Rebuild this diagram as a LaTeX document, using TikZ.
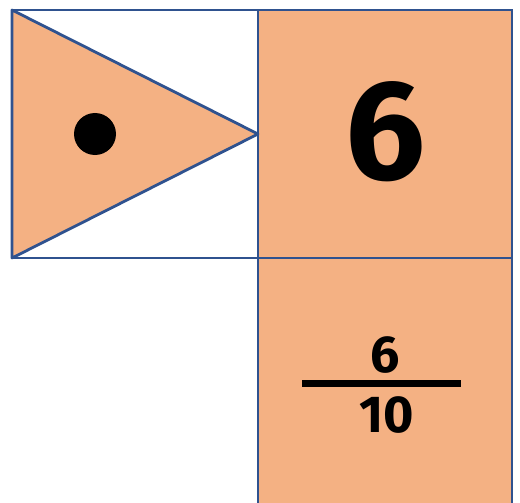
\documentclass[tikz,border=0pt]{standalone}
\usepackage{fontspec}
\setmainfont{Fira Sans}
\definecolor{tileblue}{RGB}{47,82,143}
\definecolor{tileorange}{RGB}{244,177,131}
\begin{document}
\begin{tikzpicture}[x=1pt,y=-1pt,
  cell/.style={draw=tileblue,line width=2.8pt,inner sep=0pt,outer sep=0pt},
  digit/.style={inner sep=0pt,font=\bfseries}]
\useasboundingbox (0,0) rectangle (520,503);
\clip (0,0) rectangle (520,503);
% the three tiles
\node[cell,fill=white,minimum width=246pt,minimum height=248pt] (left) at (135,134) {};
\node[cell,fill=tileorange,minimum width=254pt,minimum height=248pt] (top) at (385,134) {};
\node[cell,fill=tileorange,minimum width=254pt,minimum height=250pt] (bottom) at (385,383) {};
% arrow shaped triangle with its dot
\filldraw[fill=tileorange,draw=tileblue,line width=2.8pt,line join=round]
  (left.north west) -- (left.south west) -- (left.east) -- cycle;
\node[circle,fill=black,minimum size=42pt,inner sep=0pt] (dot) at (95,134) {};
% numbers
\node[digit,font=\fontsize{142}{142}\bfseries\selectfont] (six) at (386,132) {6};
\node[digit,font=\fontsize{52}{52}\bfseries\selectfont,anchor=south] (num) at (385,374) {6};
\node[digit,font=\fontsize{52}{52}\bfseries\selectfont,anchor=north] (den) at (387,396) {10};
\coordinate (barl) at (302,383);
\coordinate (barr) at (461,383);
\draw[line width=7pt] (barl) -- (barr);
\end{tikzpicture}
\end{document}
